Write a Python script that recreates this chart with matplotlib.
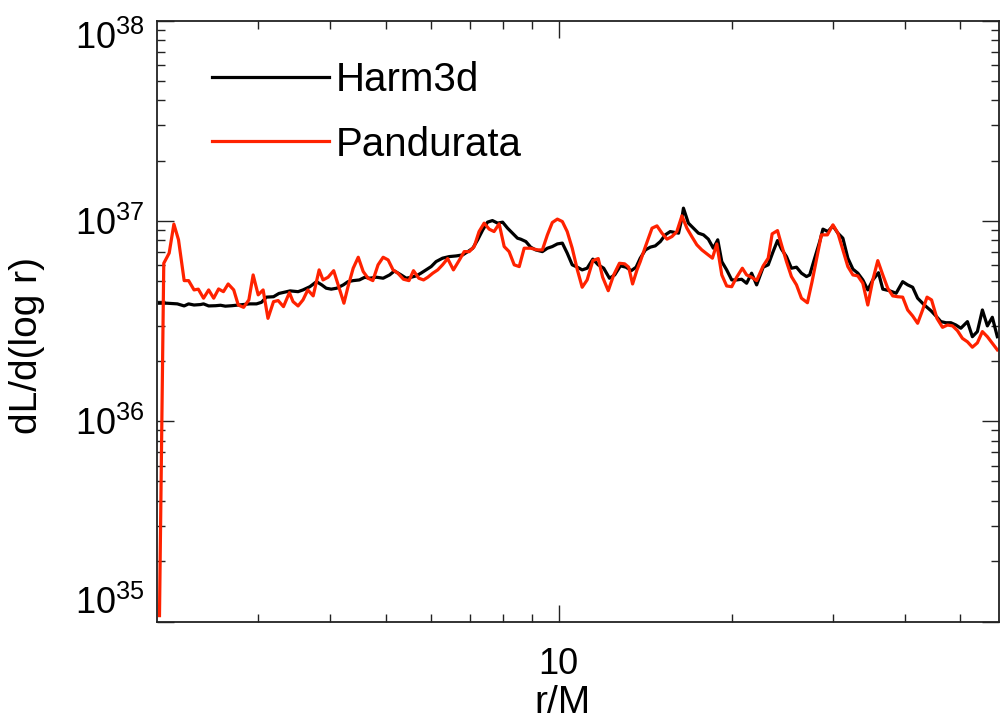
import numpy as np
import matplotlib
matplotlib.use('Agg')
import matplotlib.pyplot as plt
from matplotlib.ticker import NullFormatter

plt.rcParams['font.family'] = ['Liberation Sans', 'DejaVu Sans']
plt.rcParams['mathtext.fontset'] = 'custom'
plt.rcParams['mathtext.rm'] = 'Liberation Sans'
plt.rcParams['mathtext.default'] = 'rm'

# r/M and dL/d(log r) in units of 1e36
r_harm = [2.02, 2.08, 2.17, 2.23, 2.27, 2.32, 2.38, 2.41, 2.46, 2.53, 2.58, 2.63, 2.70, 2.77, 2.83,
          2.90, 2.98, 3.04, 3.10, 3.19, 3.26, 3.41, 3.52, 3.59, 3.69, 3.79, 3.87, 3.94, 4.02, 4.11,
          4.22, 4.30, 4.39, 4.50, 4.60, 4.69, 4.82, 4.95, 5.08, 5.18, 5.32, 5.43, 5.54, 5.65, 5.76,
          5.88, 6.00, 6.12, 6.28, 6.45, 6.63, 6.81, 6.95, 7.09, 7.23, 7.38, 7.52, 7.67, 7.83, 7.99,
          8.15, 8.31, 8.48, 8.59, 8.77, 8.94, 9.12, 9.37, 9.56, 9.75, 9.95, 10.15, 10.35, 10.56, 10.78,
          10.99, 11.21, 11.47, 11.72, 11.98, 12.26, 12.52, 12.81, 13.10, 13.38, 13.64, 13.87, 14.16, 14.44, 14.73,
          15.03, 15.33, 15.64, 15.96, 16.17, 16.39, 16.49, 16.82, 17.16, 17.51, 17.87, 18.22, 18.59, 18.92, 19.23,
          19.61, 20.01, 20.41, 20.82, 21.24, 21.67, 22.11, 22.70, 23.16, 23.62, 24.04, 24.43, 24.92, 25.42, 25.94,
          26.46, 27.00, 27.35, 27.90, 28.47, 28.84, 29.42, 30.02, 30.62, 31.24, 31.87, 32.52, 33.17, 33.84, 34.52,
          35.22, 36.03, 36.66, 37.65, 38.67, 39.70, 40.50, 41.32, 42.15, 43.30, 44.46, 45.36, 46.27, 47.21, 48.16,
          49.14, 50.12, 51.46, 52.49, 53.55, 54.64, 55.74, 56.86, 58.01]
L_harm = [3.88, 3.88, 3.85, 3.76, 3.85, 3.80, 3.82, 3.85, 3.76, 3.77, 3.79, 3.75, 3.77, 3.80, 3.83,
          3.85, 3.85, 3.92, 4.16, 4.18, 4.34, 4.47, 4.43, 4.52, 4.69, 4.97, 4.79, 4.61, 4.56, 4.61,
          4.79, 4.97, 5.03, 5.07, 5.23, 5.17, 5.23, 5.17, 5.37, 5.62, 5.37, 5.17, 5.23, 5.31, 5.48,
          5.69, 5.91, 6.26, 6.51, 6.63, 6.68, 6.76, 7.02, 7.30, 8.04, 9.02, 9.85, 10.03, 9.74, 9.85,
          9.19, 8.68, 8.19, 8.10, 7.88, 7.39, 7.16, 7.02, 7.30, 7.44, 7.67, 7.74, 6.90, 6.03, 5.87,
          5.69, 5.80, 6.44, 6.03, 5.80, 5.17, 5.37, 5.96, 5.87, 5.64, 5.87, 6.51, 7.16, 7.39, 7.50,
          7.88, 8.51, 8.84, 8.74, 8.68, 10.31, 11.57, 9.74, 9.19, 8.68, 8.51, 8.10, 7.30, 8.04, 6.26,
          5.69, 5.07, 5.07, 5.11, 4.88, 5.48, 4.79, 5.87, 6.03, 7.02, 7.97, 7.22, 6.63, 5.80, 5.87,
          5.48, 5.27, 5.37, 6.51, 7.88, 9.09, 8.84, 9.44, 8.68, 8.19, 6.51, 5.74, 5.48, 5.07, 4.52,
          5.07, 5.51, 4.56, 4.48, 4.35, 4.97, 4.79, 4.66, 4.11, 3.80, 3.56, 3.35, 3.14, 3.10, 3.10,
          3.02, 2.91, 3.14, 2.64, 2.80, 3.59, 2.99, 3.30, 2.64]

r_pand = [2.02, 2.055, 2.10, 2.14, 2.18, 2.23, 2.27, 2.32, 2.36, 2.41, 2.46, 2.51, 2.56, 2.61, 2.66,
          2.72, 2.77, 2.83, 2.89, 2.94, 3.00, 3.06, 3.12, 3.19, 3.25, 3.32, 3.40, 3.45, 3.52, 3.59,
          3.66, 3.74, 3.83, 3.89, 3.97, 4.06, 4.15, 4.23, 4.30, 4.39, 4.48, 4.57, 4.66, 4.75, 4.85,
          4.95, 5.05, 5.15, 5.25, 5.37, 5.49, 5.59, 5.71, 5.82, 5.92, 6.04, 6.16, 6.28, 6.41, 6.56,
          6.72, 6.85, 6.99, 7.13, 7.27, 7.42, 7.57, 7.72, 7.88, 8.04, 8.20, 8.37, 8.54, 8.71, 8.94,
          9.19, 9.37, 9.56, 9.75, 9.95, 10.15, 10.35, 10.56, 10.78, 10.99, 11.21, 11.47, 11.72, 11.93, 12.20,
          12.47, 12.76, 13.03, 13.24, 13.45, 13.69, 13.87, 14.16, 14.54, 14.83, 15.13, 15.44, 15.75, 16.06, 16.39,
          16.72, 17.05, 17.40, 17.75, 18.11, 18.52, 18.85, 19.23, 19.61, 20.01, 20.41, 20.88, 21.24, 21.67, 22.11,
          22.70, 23.16, 23.53, 24.04, 24.43, 24.92, 25.42, 25.94, 26.46, 27.10, 27.61, 28.09, 28.66, 29.36, 30.02,
          30.62, 31.24, 31.87, 32.52, 33.17, 33.84, 34.52, 35.22, 35.93, 36.66, 37.39, 38.15, 38.92, 39.70, 40.50,
          41.32, 42.15, 43.00, 43.77, 44.57, 45.54, 46.57, 47.51, 48.48, 49.44, 50.44, 51.46, 52.49, 53.55, 54.64,
          55.74, 56.86, 58.01]
L_pand = [0.107, 6.14, 6.90, 9.63, 8.04, 5.03, 5.03, 4.52, 4.56, 4.11, 4.52, 4.11, 4.57, 4.43, 4.84,
          4.52, 3.80, 3.70, 4.03, 5.37, 4.27, 4.52, 3.26, 3.95, 4.00, 3.73, 4.38, 3.95, 3.76, 4.03,
          4.52, 4.22, 5.69, 5.07, 5.23, 5.64, 4.61, 3.88, 4.69, 5.80, 6.58, 5.58, 5.17, 5.03, 6.03,
          6.58, 6.38, 5.69, 5.48, 5.11, 5.03, 5.64, 5.17, 5.07, 5.23, 5.48, 5.69, 6.03, 6.48, 5.69,
          6.38, 7.02, 7.02, 7.44, 8.84, 9.74, 9.09, 8.84, 9.66, 7.44, 7.02, 6.03, 5.91, 7.30, 7.30,
          7.16, 7.16, 8.51, 9.81, 10.20, 9.92, 8.84, 7.30, 5.69, 4.66, 5.07, 6.33, 6.48, 5.23, 4.48,
          5.37, 6.14, 6.10, 5.87, 4.84, 5.69, 6.26, 7.44, 9.19, 9.44, 8.68, 8.10, 8.35, 8.84, 10.59,
          9.19, 8.35, 7.59, 7.16, 6.84, 6.51, 7.67, 5.37, 4.73, 4.69, 5.23, 5.80, 5.37, 5.23, 5.03,
          5.96, 6.51, 8.61, 8.94, 7.59, 6.26, 5.27, 4.79, 4.11, 3.90, 4.97, 6.38, 8.51, 8.51, 9.55,
          8.68, 7.16, 5.91, 5.37, 5.31, 4.88, 3.80, 5.07, 6.33, 5.37, 4.61, 4.22, 4.18, 4.16, 3.59,
          3.35, 3.08, 3.59, 4.16, 4.03, 3.26, 2.94, 3.02, 2.99, 2.83, 2.59, 2.49, 2.34, 2.46, 2.80,
          2.64, 2.45, 2.27]

x_major = [10]
x_minor = [3, 4, 5, 6, 7, 8, 9, 20, 30, 40, 50]
y_major = [1e35, 1e36, 1e37, 1e38]
y_labels = [r'$10^{35}$', r'$10^{36}$', r'$10^{37}$', r'$10^{38}$']

fig = plt.figure(figsize=(10, 7.19), dpi=100)
ax = fig.add_axes([0.157, 1 - 621.5 / 719, 0.842, 601 / 719])

ax.plot(r_harm, np.array(L_harm) * 1e36, color='black', lw=2.3, label='Harm3d')
ax.plot(r_pand, np.array(L_pand) * 1e36, color='#ff2200', lw=2.3, label='Pandurata')

ax.set_xscale('log')
ax.set_yscale('log')
ax.set_xlim(2.0, 58.4)
ax.set_ylim(1e35, 1e38)

ax.set_xticks(x_major)
ax.set_xticklabels(['10'])
ax.set_xticks(x_minor, minor=True)
ax.xaxis.set_minor_formatter(NullFormatter())
ax.set_yticks(y_major)
ylabs = ax.set_yticklabels(y_labels)
ylabs[0].set_va('bottom')
ylabs[-1].set_va('top')

ax.tick_params(which='both', direction='in', top=True, right=True, width=1, color='#222222')
ax.tick_params(which='major', length=12.5, labelsize=26)
ax.tick_params(axis='y', which='major', pad=9)
ax.tick_params(axis='x', which='major', pad=18)
ax.tick_params(which='minor', length=6)
for s in ax.spines.values():
    s.set_linewidth(1.3)
    s.set_color('#222222')

ax.set_xlabel('r/M', fontsize=28)
ax.xaxis.set_label_coords(0.481, -0.105)
ax.set_ylabel('dL/d(log r)', fontsize=28)
ax.yaxis.set_label_coords(-0.133, 0.46)

ax.legend(loc='upper left', bbox_to_anchor=(0.065, 0.932), frameon=False, fontsize=29,
          handlelength=2.9, handletextpad=0.17, labelspacing=0.65, borderpad=0, borderaxespad=0)

fig.savefig('out.png', dpi=100)
